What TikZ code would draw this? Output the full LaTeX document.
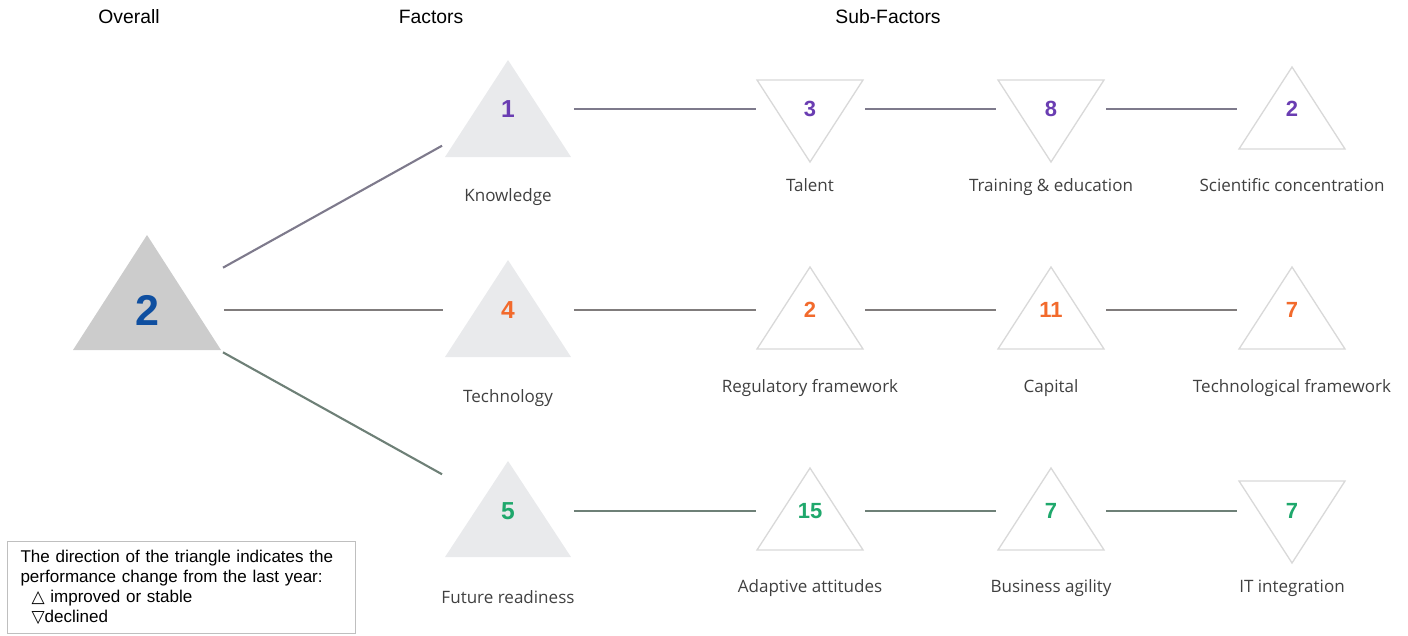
\documentclass[tikz,border=0pt]{standalone}
\usepackage{fontspec}
\setmainfont{Liberation Sans}
\newfontfamily\lblfont{Open Sans}
\newfontfamily\symfont{DejaVu Sans}
\usetikzlibrary{backgrounds}

\definecolor{numblue}{HTML}{0F4FA0}
\definecolor{numpurple}{HTML}{6A3DB2}
\definecolor{numorange}{HTML}{F26A2C}
\definecolor{numgreen}{HTML}{1FA86C}
\definecolor{ovfill}{HTML}{CCCCCC}
\definecolor{facfill}{HTML}{E9EAEC}
\definecolor{subline}{HTML}{D9D9D9}
\definecolor{rowa}{HTML}{7E7A8C}
\definecolor{rowb}{HTML}{807C7C}
\definecolor{rowc}{HTML}{6E8077}
\definecolor{lblgrey}{HTML}{404040}
\definecolor{boxgrey}{HTML}{BFBFBF}

\tikzset{
  subtri/.style={draw=subline,line width=0.75pt,fill=white},
  factri/.style={fill=facfill},
  ovtri/.style={fill=ovfill}
}

\begin{document}
\begin{tikzpicture}[x=0.02cm,y=-0.02cm]
      \useasboundingbox (0,0) rectangle (1408,635);

      % column headings
      \begin{scope}[every node/.style={font=\fontsize{11}{13}\selectfont}]
        \node (hov)  at (129,17) {Overall};
        \node (hfac) at (431,17) {Factors};
        \node (hsub) at (888,17) {Sub-Factors};
      \end{scope}

      % ranks
      \node[font=\bfseries\fontsize{24.5}{28}\selectfont,text=numblue] (ov) at (147,310) {2};

      \begin{scope}[every node/.style={font=\bfseries\fontsize{14}{16}\selectfont}]
        \node[text=numpurple] (kno) at (508,109) {1};
        \node[text=numorange] (tec) at (508,310) {4};
        \node[text=numgreen]  (fut) at (508,511) {5};
      \end{scope}

      \begin{scope}[every node/.style={font=\bfseries\fontsize{12.5}{15}\selectfont}]
        \node[text=numpurple] (tal) at (810,109)  {3};
        \node[text=numpurple] (tra) at (1051,109) {8};
        \node[text=numpurple] (sci) at (1292,109) {2};
        \node[text=numorange] (reg) at (810,310)  {2};
        \node[text=numorange] (cap) at (1051,310) {11};
        \node[text=numorange] (tfw) at (1292,310) {7};
        \node[text=numgreen]  (ada) at (810,511)  {15};
        \node[text=numgreen]  (bus) at (1051,511) {7};
        \node[text=numgreen]  (itg) at (1292,511) {7};
      \end{scope}

      % names
      \begin{scope}[every node/.style={font=\lblfont\fontsize{9.7}{11}\selectfont,text=lblgrey,text height=1.5ex,text depth=.3ex}]
        \node (lkno) at (508,196)  {Knowledge};
        \node (ltec) at (508,397)  {Technology};
        \node (lfut) at (508,598)  {Future readiness};
        \node (ltal) at (810,186)  {Talent};
        \node (ltra) at (1051,186) {Training \& education};
        \node (lsci) at (1292,186) {Scientific concentration};
        \node (lreg) at (810,387)  {Regulatory framework};
        \node (lcap) at (1051,387) {Capital};
        \node (ltfw) at (1292,387) {Technological framework};
        \node (lada) at (810,587)  {Adaptive attitudes};
        \node (lbus) at (1051,587) {Business agility};
        \node (litg) at (1292,587) {IT integration};
      \end{scope}

      % triangles behind the ranks
      \begin{scope}[on background layer]
        \path[ovtri]  (ov)  ++(-74,40) -- ++(74,-115) -- ++(74,115) -- cycle;
        \path[factri] (kno) ++(-63,48) -- ++(63,-97) -- ++(63,97) -- cycle;
        \path[factri] (tec) ++(-63,47) -- ++(63,-97) -- ++(63,97) -- cycle;
        \path[factri] (fut) ++(-63,46) -- ++(63,-96) -- ++(63,96) -- cycle;
        \path[subtri] (tal) ++(-53,-29) -- ++(53,82) -- ++(53,-82) -- cycle;
        \path[subtri] (tra) ++(-53,-29) -- ++(53,82) -- ++(53,-82) -- cycle;
        \path[subtri] (sci) ++(-53,40) -- ++(53,-82) -- ++(53,82) -- cycle;
        \path[subtri] (reg) ++(-53,39) -- ++(53,-82) -- ++(53,82) -- cycle;
        \path[subtri] (cap) ++(-53,39) -- ++(53,-82) -- ++(53,82) -- cycle;
        \path[subtri] (tfw) ++(-53,39) -- ++(53,-82) -- ++(53,82) -- cycle;
        \path[subtri] (ada) ++(-53,39) -- ++(53,-82) -- ++(53,82) -- cycle;
        \path[subtri] (bus) ++(-53,39) -- ++(53,-82) -- ++(53,82) -- cycle;
        \path[subtri] (itg) ++(-53,-30) -- ++(53,82) -- ++(53,-82) -- cycle;
      \end{scope}

      % links
      \begin{scope}[every edge/.style={draw,line width=1.2pt}]
        \path (ov.center)  edge[rowa,shorten <=1.74cm,shorten >=1.51cm] (kno.center);
        \path (ov.center)  edge[rowb,shorten <=1.54cm,shorten >=1.3cm]  (tec.center);
        \path (ov.center)  edge[rowc,shorten <=1.74cm,shorten >=1.51cm] (fut.center);

        \path (kno.center) edge[rowa,shorten <=1.32cm,shorten >=1.08cm] (tal.center);
        \path (tal.center) edge[rowa,shorten <=1.1cm,shorten >=1.1cm]   (tra.center);
        \path (tra.center) edge[rowa,shorten <=1.1cm,shorten >=1.1cm]   (sci.center);

        \path (tec.center) edge[rowb,shorten <=1.32cm,shorten >=1.08cm] (reg.center);
        \path (reg.center) edge[rowb,shorten <=1.1cm,shorten >=1.1cm]   (cap.center);
        \path (cap.center) edge[rowb,shorten <=1.1cm,shorten >=1.1cm]   (tfw.center);

        \path (fut.center) edge[rowc,shorten <=1.32cm,shorten >=1.08cm] (ada.center);
        \path (ada.center) edge[rowc,shorten <=1.1cm,shorten >=1.1cm]   (bus.center);
        \path (bus.center) edge[rowc,shorten <=1.1cm,shorten >=1.1cm]   (itg.center);
      \end{scope}

      % key
      \node[draw=boxgrey,line width=0.6pt,anchor=north west,inner xsep=0.26cm,
            text width=6.44cm,minimum height=1.84cm,align=left,
            font=\fontsize{9.7}{11.5}\selectfont] (key) at (7,541)
        {The direction of the triangle indicates the\\
         performance change from the last year:\\
         \hspace*{0.22cm}{\symfont △} improved or stable\\
         \hspace*{0.22cm}{\symfont ▽}declined};

    \end{tikzpicture}
\end{document}
